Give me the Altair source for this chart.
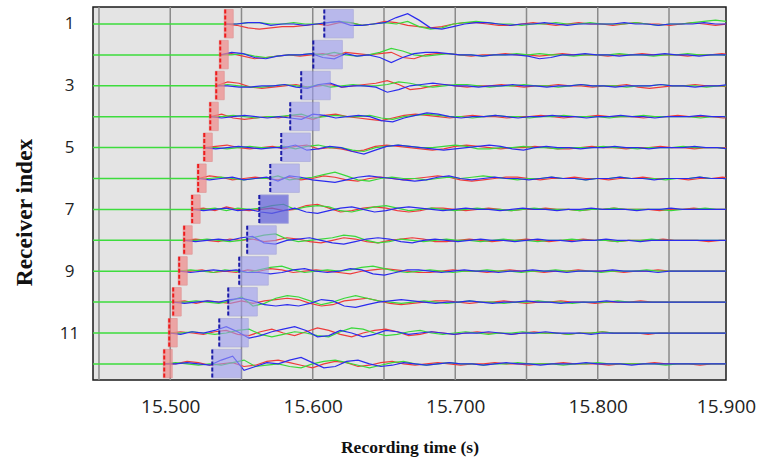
import altair as alt
import pandas as pd

# ---------------- data ----------------
ROWS = list(range(1, 13))
P_PICK = [15.5386, 15.5351, 15.5323, 15.5281, 15.5239, 15.5196,
          15.5154, 15.5098, 15.5063, 15.5021, 15.4993, 15.4958]
S_PICK = [15.6081, 15.6004, 15.5919, 15.5842, 15.5779, 15.5702,
          15.5625, 15.5540, 15.5484, 15.5407, 15.5344, 15.5295]
P_WIN = 0.0063
S_WIN = 0.0204
SELECTED_ROW = 7
GRID_TIMES = [15.45, 15.50, 15.55, 15.60, 15.65, 15.70, 15.75, 15.80, 15.85]
X_TICKS = [15.5, 15.6, 15.7, 15.8, 15.89]
Y_TICKS = [1, 3, 5, 7, 9, 11]
STEP = 0.008  # sample interval of the traces (s)

# trace samples after the P pick (approx. pixels, positive = up)
RED = [
    [-1,-3,-4,-3,-2,-2,-1,0,-1,1,1,-1,0,2,1,-1,-2,-3,-2,0,1,1,0,-1,-1,0,1,0,-1,0,1,0,0,-1,0,1,0,0,-1,0,1,0,-1,0,0,1,0,-1,0,0],
    [1,-1,-3,-2,-1,0,-1,0,1,-1,2,1,0,1,2,-2,-3,0,1,1,0,-1,0,0,1,0,0,-1,0,1,0,0,0,-1,0,0,1,0,0,0,-1,0,0,1,0,0,-1,0,0,0],
    [3,2,-1,-2,-1,0,1,-1,0,1,-1,0,1,2,4,1,-3,-2,0,1,0,-1,0,0,1,0,-1,0,0,1,0,0,-1,0,0,1,-1,-2,-1,0,0,1,0,0,-1,0,0,1,0,0],
    [2,-1,-2,-1,0,-1,1,0,-2,1,2,0,-1,-2,-3,-1,1,2,1,0,-1,0,1,0,0,-1,0,0,1,0,-1,0,0,1,0,0,0,-1,0,0,1,0,0,0,-1,0,0,0,1,0],
    [1,2,0,-1,0,1,-1,1,2,-1,0,-1,-3,-2,1,2,1,0,-1,-2,-1,1,2,1,0,-1,0,0,1,0,-1,-1,0,1,0,0,-1,0,0,1,0,0,-1,0,0,0,1,0,0,0],
    [2,1,-1,0,1,0,-1,1,-1,0,2,1,-1,-2,0,1,0,-1,0,1,2,1,-1,-2,-1,0,1,1,0,-1,0,0,1,0,0,-1,0,0,1,0,0,0,-1,0,0,1,0,0,0,0],
    [1,-1,2,0,-1,0,1,-1,0,3,4,1,-2,-1,1,2,1,-1,-2,-1,1,1,0,-1,0,1,0,-1,0,0,1,0,0,-1,0,0,1,0,0,0,-1,0,0,1,0,0,0,0,0,0],
    [1,0,-1,1,0,1,-1,0,2,1,-1,-2,0,2,1,-1,-2,0,1,2,1,-1,-1,0,1,0,-1,0,0,1,0,-1,0,0,1,0,0,-1,0,0,0,1,0,0,0,-1,0,0,0,0],
    [0,1,-1,0,-1,1,0,2,1,-1,0,1,0,-1,-2,0,1,2,1,0,-1,-1,0,1,0,0,-1,0,1,0,0,-1,0,0,1,0,0,0,-1,0,0,1,0,0,0,0,0,0,0,0],
    [1,-1,1,0,-1,1,-1,1,2,3,2,-1,-3,-2,1,2,3,1,-1,-2,-1,0,1,1,0,-1,0,0,1,0,-1,0,0,1,0,0,-1,0,0,0,1,0,0,0,0,0,0,0,0,0],
    [1,0,-1,1,2,-1,-2,1,3,0,-2,1,4,2,-1,-3,0,2,3,1,-2,-1,1,0,-1,0,1,0,0,-1,0,1,0,0,-1,0,0,1,0,0,0,-1,0,0,0,0,0,0,0,0],
    [0,2,1,-1,0,1,-2,-1,2,3,1,-1,-3,0,2,1,-2,-1,1,2,0,-1,0,1,0,-1,0,0,1,0,0,-1,0,0,1,0,0,0,-1,0,0,0,1,0,0,0,-1,0,0,0],
]
GREEN = [
    [0,1,1,0,0,1,0,0,1,2,1,-1,0,1,0,2,-2,-4,-3,0,1,2,1,0,0,-1,0,0,1,0,0,1,0,0,0,1,0,-1,0,0,1,2,3,2,0,-2,-2,0,0,0],
    [0,1,-1,-2,-1,0,0,1,0,2,0,-1,0,2,5,3,0,-1,0,1,0,0,-1,0,0,1,0,1,0,0,-1,0,0,0,1,0,0,-1,0,0,1,0,0,0,-1,0,0,1,0,0],
    [1,0,-1,-1,0,1,0,-1,1,-1,0,1,0,0,1,3,2,0,-1,0,1,1,0,-1,0,0,1,0,0,-1,0,1,0,0,0,-1,0,0,1,0,0,0,-1,0,0,1,0,0,0,0],
    [0,1,0,-1,0,0,1,2,-1,0,1,0,0,1,-1,-2,0,1,2,1,0,0,-1,0,1,0,0,-1,0,0,1,0,0,0,-1,0,0,1,0,0,0,0,-1,0,0,1,0,0,0,0],
    [0,-1,0,1,0,0,1,-1,1,2,0,0,-2,-3,0,1,2,1,0,0,1,2,1,-1,-1,0,0,1,0,0,-1,0,0,0,1,0,0,-1,0,0,0,1,0,0,0,-1,0,0,0,0],
    [0,1,0,-1,0,0,2,-1,0,1,3,5,2,-1,-2,0,1,0,0,-1,0,1,0,1,2,1,0,-1,0,0,1,0,0,-1,0,0,1,0,0,0,-1,0,0,1,0,0,0,0,0,0],
    [0,1,-1,1,0,1,3,4,0,2,3,2,-1,-2,0,2,3,1,-1,0,1,0,-1,0,1,0,0,-1,0,1,0,0,0,-1,0,0,1,0,0,0,0,-1,0,0,1,0,0,0,0,0],
    [0,1,0,-1,0,2,4,5,1,-1,0,1,2,4,3,0,-2,-1,1,0,-1,0,1,0,0,-1,0,1,0,0,-1,0,0,1,0,0,0,-1,0,0,1,0,0,0,0,0,0,0,0,0],
    [1,0,-1,1,0,-1,1,3,4,1,-1,0,1,0,1,3,4,2,0,-1,0,1,0,-1,0,0,1,0,0,-1,0,0,1,0,0,0,-1,0,0,0,1,0,0,0,0,0,0,0,0,0],
    [0,1,0,-1,1,4,-3,-1,3,5,4,1,-2,0,3,5,3,1,0,-1,0,1,0,-1,0,1,0,0,-1,0,0,1,0,0,-1,0,0,0,1,0,0,0,0,0,0,0,0,0,0,0],
    [0,1,0,-1,0,2,3,-1,-3,-1,1,0,-2,-3,1,4,3,0,-2,-1,1,2,0,-1,0,1,0,-1,0,0,1,0,0,0,-1,0,0,1,0,0,0,0,0,0,0,0,0,0,0,0],
    [1,0,-1,0,-1,1,3,-2,-1,0,-2,-3,0,2,3,1,-1,-3,-1,1,2,0,-1,0,1,0,0,-1,0,0,1,0,0,0,-1,0,0,1,0,0,0,0,0,-1,0,0,0,0,0,0],
]
BLUE = [
    [0,1,1,-1,0,0,-1,0,1,2,-1,-1,0,1,5,8,3,-3,-4,-2,0,1,1,0,-1,0,0,1,0,-1,0,0,0,0,1,0,0,-1,0,0,0,1,0,0,-1,0,1,0,0,0],
    [2,1,-2,-3,-1,0,0,1,-2,-3,1,-1,0,-2,-6,-2,1,2,2,1,0,0,-1,0,0,0,-1,-3,-2,0,0,1,0,0,-1,0,0,0,1,0,0,-1,0,0,0,1,0,0,0,0],
    [0,-1,-1,0,0,1,-1,-2,1,2,-1,0,0,-1,-5,-3,0,1,2,1,0,0,-1,0,0,1,0,0,-1,0,0,1,0,0,-1,0,0,0,1,0,0,-1,0,0,1,0,0,0,-1,0],
    [-1,0,1,0,-1,0,-1,-2,2,1,-1,0,1,0,-3,-4,-1,1,3,2,0,-1,0,0,1,0,-1,0,0,1,0,0,-1,0,0,1,0,0,-1,0,0,0,1,0,0,-1,0,0,0,0],
    [-1,0,1,0,-1,0,0,2,-2,-1,1,0,-3,-5,-2,1,2,1,0,-1,-2,-1,0,1,2,1,-1,-2,0,1,0,0,-1,0,0,1,0,0,-1,0,0,0,1,0,0,-1,0,0,0,0],
    [-1,0,1,-1,0,1,-2,2,1,-1,-2,-3,-1,1,2,1,0,-1,-2,-1,1,2,0,-1,0,1,0,0,-1,0,1,0,0,-1,0,0,1,0,0,-1,0,0,0,1,0,0,-1,0,0,0],
    [-1,0,1,-1,0,-2,-3,-1,1,-2,-3,-1,1,2,0,-2,-1,1,2,1,0,-1,0,1,0,0,-1,0,1,0,0,-1,0,0,1,0,0,0,-1,0,0,1,0,0,0,0,0,0,0,0],
    [-1,0,1,0,2,3,-2,-3,0,1,2,0,-2,-3,-1,1,2,1,-1,-2,0,1,0,-1,0,1,0,0,-1,0,1,0,0,-1,0,0,1,0,0,-1,0,0,0,0,0,0,0,0,0,0],
    [-1,0,1,0,1,-1,-1,-2,-1,1,2,0,-1,0,2,1,-2,-3,-1,1,1,0,-1,0,1,0,0,-1,0,0,1,0,0,-1,0,0,0,1,0,0,0,-1,0,0,0,0,0,0,0,0],
    [-1,0,1,0,2,3,1,-2,-3,-2,-3,-1,2,1,-3,-4,-2,0,1,2,1,0,-1,0,0,1,0,-1,0,0,1,0,0,-1,0,0,0,1,0,0,0,0,0,0,0,0,0,0,0],
    [-1,1,0,2,5,1,-4,-2,1,3,5,2,-3,-2,2,0,-3,-1,2,1,-1,0,1,0,-1,0,0,1,0,-1,0,0,1,0,0,0,-1,0,0,0,0,0,0,0,0,0,0,0,0,0],
    [0,1,0,-1,3,6,-5,-2,1,0,3,5,1,-3,-2,2,3,0,-2,-1,1,0,-1,0,1,0,0,-1,0,1,0,0,-1,0,0,0,1,0,0,0,-1,0,0,0,0,0,0,0,0,0],
]

# ---------------- tables ----------------
T0, T1 = 15.4458, 15.89
Y0, Y1 = 0.45, 12.52
PX_PER_ROW = 24.0  # trace amplitude scaling (sample units per row spacing)

trace_rec = []
for r, p, reds, greens, blues in zip(ROWS, P_PICK, RED, GREEN, BLUE):
    for comp, vals in (("red", reds), ("green", greens), ("blue", blues)):
        tid = f"{r:02d}-{comp}"
        trace_rec.append(dict(t=p, y=r, comp=comp, trace=tid, k=0))
        for i, v in enumerate(vals):
            t = p + STEP * (i + 1)
            trace_rec.append(dict(t=t, y=r - v / PX_PER_ROW, comp=comp, trace=tid, k=i + 1))
            if t > T1:
                break
traces = pd.DataFrame(trace_rec)

base_df = pd.DataFrame({"t": [T0] * 12, "t2": P_PICK, "y": ROWS})
grid_df = pd.DataFrame({"t": GRID_TIMES})
pbox = pd.DataFrame({"t": [p - 0.0007 for p in P_PICK], "t2": [p - 0.0007 + P_WIN for p in P_PICK],
                     "y": [r - 0.47 for r in ROWS], "y2": [r + 0.45 for r in ROWS]})
sbox = pd.DataFrame({"t": S_PICK, "t2": [s + S_WIN for s in S_PICK],
                     "y": [r - 0.47 for r in ROWS], "y2": [r + 0.45 for r in ROWS],
                     "sel": ["yes" if r == SELECTED_ROW else "no" for r in ROWS]})
ppick = pd.DataFrame({"t": P_PICK, "y": [r - 0.47 for r in ROWS], "y2": [r + 0.45 for r in ROWS]})
spick = pd.DataFrame({"t": S_PICK, "y": [r - 0.47 for r in ROWS], "y2": [r + 0.45 for r in ROWS]})

xscale = alt.Scale(domain=[T0, T1], nice=False, zero=False)
yscale = alt.Scale(domain=[Y0, Y1], reverse=True, nice=False, zero=False)

xaxis = alt.Axis(values=X_TICKS, labelExpr="datum.value > 15.88 ? '15.900' : format(datum.value, '.3f')",
                 title="Recording time (s)", grid=False, ticks=False, tickSize=0, domain=False,
                 labelFlush=False, labelOverlap=False,
                 labelFont="Open Sans", labelFontSize=19, labelColor="#222", labelPadding=17,
                 titleFont="Liberation Serif", titleFontWeight="bold", titleFontSize=17.5,
                 titleColor="#111", titleY=67, titleBaseline="middle")
yaxis = alt.Axis(values=Y_TICKS, format="d", title="Receiver index", grid=False, ticks=False, tickSize=0,
                 domain=False, labelFont="Open Sans", labelFontSize=17, labelColor="#222",
                 labelAlign="center", labelBaseline="middle", labelPadding=24,
                 titleFont="Liberation Serif", titleFontWeight="bold", titleFontSize=23.5, titleColor="#111",
                 titleAngle=270, titleX=-69, titleY=205, titleBaseline="middle", titleAlign="center")

X = alt.X("t:Q", scale=xscale, axis=xaxis)
Y = alt.Y("y:Q", scale=yscale, axis=yaxis)

grid = alt.Chart(grid_df).mark_rule(color="#8a8a8a", strokeWidth=1.5).encode(
    x=alt.X("t:Q", scale=xscale, axis=xaxis))

baselines = alt.Chart(base_df).mark_rule(color="#3ddc3d", strokeWidth=1.5).encode(
    x=X, x2="t2:Q", y=Y)

lines = alt.Chart(traces).mark_line(strokeWidth=1.2, interpolate="linear", clip=True).encode(
    x=X, y=Y,
    color=alt.Color("comp:N", scale=alt.Scale(domain=["red", "green", "blue"],
                                              range=["#ee3b3b", "#3ad83a", "#2b2bee"]), legend=None),
    detail="trace:N", order="k:Q")

pboxes = alt.Chart(pbox).mark_rect(fill="#f08a8a", opacity=0.7, stroke="#e07a7a", strokeWidth=0.8).encode(
    x=X, x2="t2:Q", y=Y, y2="y2:Q")

sboxes = alt.Chart(sbox).mark_rect(stroke="#8c8cd8", strokeWidth=0.8).encode(
    x=X, x2="t2:Q", y=Y, y2="y2:Q",
    fill=alt.Fill("sel:N", scale=alt.Scale(domain=["no", "yes"], range=["#9c9cf0", "#6464dc"]), legend=None),
    opacity=alt.Opacity("sel:N", scale=alt.Scale(domain=["no", "yes"], range=[0.6, 0.72]), legend=None))

plines = alt.Chart(ppick).mark_rule(color="#ee1c1c", strokeWidth=2, strokeDash=[4, 2]).encode(
    x=X, y=Y, y2="y2:Q")
slines = alt.Chart(spick).mark_rule(color="#1c1ca8", strokeWidth=2, strokeDash=[4, 2]).encode(
    x=X, y=Y, y2="y2:Q")

chart = alt.layer(grid, baselines, lines, pboxes, sboxes, plines, slines).properties(
    width=633, height=373,
    autosize=alt.AutoSizeParams(type="none"),
    padding={"left": 93, "top": 7, "right": 39, "bottom": 84},
    background="white",
).configure_view(fill="#e4e4e4", stroke="#1a1a1a", strokeWidth=1.5)

chart.save("out.html", embed_options={"renderer": "svg", "actions": False})
